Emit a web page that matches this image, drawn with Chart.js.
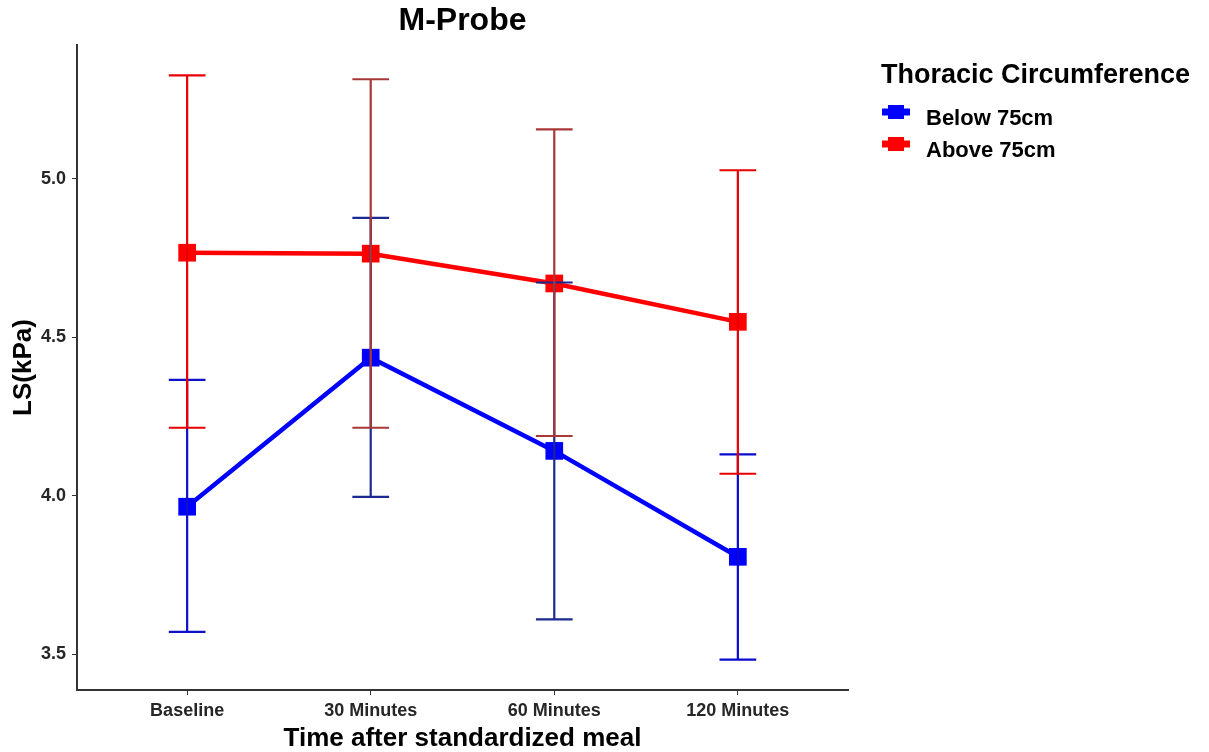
<!DOCTYPE html>
<html>
<head>
<meta charset="utf-8">
<title>M-Probe</title>
<script src="https://cdn.jsdelivr.net/npm/chart.js@4.4.1/dist/chart.umd.min.js"></script>
<style>
  html, body { margin: 0; padding: 0; background: #fff; }
  #grafico { display: block; }
</style>
</head>
<body>
<canvas id="grafico" width="1209" height="752"></canvas>
<script>
const categorias = ['Baseline', '30 Minutes', '60 Minutes', '120 Minutes']
const yTicks = [3.5, 4.0, 4.5, 5.0]

// Below 75cm
const abaixoMedia = [3.966, 4.436, 4.142, 3.808]
const abaixoMin = [3.571, 3.997, 3.611, 3.484]
const abaixoMax = [4.366, 4.877, 4.673, 4.131]

// Above 75cm
const acimaMedia = [4.767, 4.764, 4.670, 4.549]
const acimaMin = [4.215, 4.215, 4.189, 4.070]
const acimaMax = [5.326, 5.314, 5.156, 5.027]

const fonte = 'Liberation Sans, Arial, sans-serif'

function pontos(valores) {
  return valores.map((v, i) => ({ x: i, y: v }))
}

const barrasErro = {
  id: 'barrasErro',
  afterDatasetsDraw(chart) {
    const ctx = chart.ctx
    const x = chart.scales.x
    const y = chart.scales.y
    ctx.save()
    chart.data.datasets.forEach(ds => {
      ds.data.forEach((p, i) => {
        const px = x.getPixelForValue(p.x)
        const esq = x.getPixelForValue(p.x - 0.1)
        const dir = x.getPixelForValue(p.x + 0.1)
        const baixo = y.getPixelForValue(ds.minimo[i])
        const alto = y.getPixelForValue(ds.maximo[i])
        ctx.strokeStyle = ds.corErro[i]
        ctx.lineWidth = 2.2
        ctx.beginPath()
        ctx.moveTo(px, baixo); ctx.lineTo(px, alto)
        ctx.moveTo(esq, baixo); ctx.lineTo(dir, baixo)
        ctx.moveTo(esq, alto); ctx.lineTo(dir, alto)
        ctx.stroke()
      })
    })
    ctx.restore()
  }
}

const legenda = {
  id: 'legenda',
  afterDraw(chart) {
    const ctx = chart.ctx
    ctx.save()
    ctx.fillStyle = '#000'
    ctx.textAlign = 'left'
    ctx.textBaseline = 'alphabetic'
    ctx.font = 'bold 27px ' + fonte
    ctx.fillText('Thoracic Circumference', 881, 83)
    ctx.font = 'bold 22px ' + fonte
    chart.data.datasets.forEach((ds, i) => {
      const cy = 112 + i * 32
      ctx.strokeStyle = ds.borderColor
      ctx.lineWidth = 7
      ctx.beginPath()
      ctx.moveTo(882, cy); ctx.lineTo(910, cy)
      ctx.stroke()
      ctx.fillStyle = ds.borderColor
      ctx.fillRect(888, cy - 7, 16, 14)
      ctx.fillStyle = '#000'
      ctx.fillText(ds.label, 926, cy + 12.5)
    })
    ctx.restore()
  }
}

const grafico = new Chart(document.getElementById('grafico'), {
  type: 'line',
  data: {
    datasets: [{
      label: 'Below 75cm',
      data: pontos(abaixoMedia),
      minimo: abaixoMin,
      maximo: abaixoMax,
      corErro: ['#1010c8', '#1a2a90', '#1a2a90', '#0a0ad0'],
      borderColor: '#0000ff',
      backgroundColor: '#0000ff',
      borderWidth: 4.5,
      pointStyle: 'rect',
      pointRadius: 12.5,
      pointBorderWidth: 0,
      tension: 0
    }, {
      label: 'Above 75cm',
      data: pontos(acimaMedia),
      minimo: acimaMin,
      maximo: acimaMax,
      corErro: ['#e80000', '#a83838', '#a83838', '#e80000'],
      borderColor: '#ff0000',
      backgroundColor: '#ff0000',
      borderWidth: 4.5,
      pointStyle: 'rect',
      pointRadius: 12.5,
      pointBorderWidth: 0,
      tension: 0
    }]
  },
  options: {
    responsive: false,
    animation: false,
    events: [],
    layout: { padding: { left: 0, right: 361, top: 0, bottom: 0 } },
    plugins: {
      legend: { display: false },
      tooltip: { enabled: false },
      title: {
        display: true,
        text: 'M-Probe',
        fullSize: false,
        color: '#000',
        font: { family: fonte, size: 32, weight: 'bold', lineHeight: 1 },
        padding: { top: 5, bottom: 8 }
      }
    },
    scales: {
      x: {
        type: 'linear',
        min: -0.6,
        max: 3.6,
        afterBuildTicks: s => { s.ticks = categorias.map((c, i) => ({ value: i })) },
        afterFit: s => { s.height = 62 },
        ticks: {
          callback: v => categorias[v],
          color: '#262626',
          font: { family: fonte, size: 18, weight: 'bold' },
          padding: 5,
          maxRotation: 0,
          autoSkip: false
        },
        grid: { drawOnChartArea: false, drawTicks: true, tickLength: 5, color: '#333' },
        border: { display: true, color: '#333', width: 2 },
        title: {
          display: true,
          text: 'Time after standardized meal',
          color: '#000',
          font: { family: fonte, size: 26, weight: 'bold', lineHeight: 1 },
          padding: { top: 0, bottom: 0.5 }
        }
      },
      y: {
        min: 3.388,
        max: 5.422,
        afterBuildTicks: s => { s.ticks = yTicks.map(v => ({ value: v })) },
        afterFit: s => { s.width = 77 },
        ticks: {
          callback: v => v.toFixed(1),
          color: '#262626',
          font: { family: fonte, size: 18, weight: 'bold' },
          padding: 6
        },
        grid: { drawOnChartArea: false, drawTicks: true, tickLength: 5, color: '#333' },
        border: { display: true, color: '#333', width: 2 },
        title: {
          display: true,
          text: 'LS(kPa)',
          color: '#000',
          font: { family: fonte, size: 26, weight: 'bold', lineHeight: 1 },
          padding: { top: 11, bottom: 0 }
        }
      }
    }
  },
  plugins: [barrasErro, legenda]
})
</script>
</body>
</html>
